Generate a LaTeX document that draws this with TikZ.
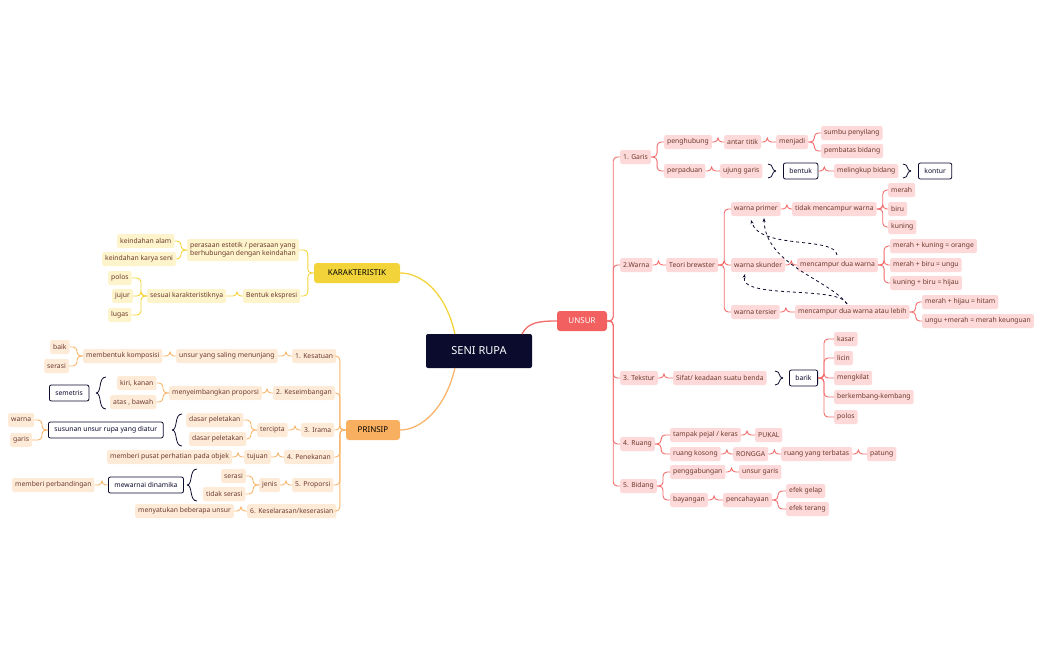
\documentclass[tikz,border=0pt]{standalone}
\usepackage{fontspec}
\setmainfont{Noto Sans}
\usetikzlibrary{arrows.meta}
\definecolor{rline}{HTML}{F26B6B}
\definecolor{rfill}{HTML}{FDD9D9}
\definecolor{oline}{HTML}{F7B46A}
\definecolor{ofill}{HTML}{FDEBD8}
\definecolor{yline}{HTML}{F2D43A}
\definecolor{yfill}{HTML}{FDF4CC}
\definecolor{navy}{HTML}{0B0B2E}
\definecolor{txt}{HTML}{6E3A2C}
\tikzset{
 base/.style={rounded corners=2pt,inner xsep=3pt,inner ysep=0pt,minimum height=14pt,font=\fontsize{6.8}{8}\selectfont,anchor=west,text=txt},
 rn/.style={base,fill=rfill},
 on/.style={base,fill=ofill},
 yn/.style={base,fill=yfill},
 bx/.style={base,fill=white,draw=navy,line width=0.8pt,text=navy,minimum height=16pt,inner xsep=6pt},
 rl/.style={draw=rline,line width=0.9pt,rounded corners=4pt},
 ol/.style={draw=oline,line width=0.9pt,rounded corners=4pt},
 yl/.style={draw=yline,line width=0.9pt,rounded corners=4pt},
 br/.style={draw=navy,line width=0.8pt},
 dsh/.style={draw=navy,line width=0.8pt,dashed,-{Stealth[length=4pt]}},
}
\newcommand\R[3][rl]{\draw[#1] (#2.east) -- ++(6,0) |- (#3.west);}
\newcommand\Lf[3][ol]{\draw[#1] (#2.west) -- ++(-6,0) |- (#3.east);}
% right brace ")" at point x,y with half height h
\newcommand\rbr[3]{\draw[br] (#1,#2-#3) .. controls (#1+6,#2-#3) and (#1+3,#2) .. (#1+8,#2) (#1,#2+#3) .. controls (#1+6,#2+#3) and (#1+3,#2) .. (#1+8,#2);}
\newcommand\lbr[3]{\draw[br] (#1,#2-#3) .. controls (#1-8,#2-#3) and (#1-4,#2) .. (#1-10,#2) (#1,#2+#3) .. controls (#1-8,#2+#3) and (#1-4,#2) .. (#1-10,#2);}
\begin{document}
\begin{tikzpicture}[x=1pt,y=-1pt]
\useasboundingbox (0,0) rectangle (1041,645);
% main nodes
\node[fill=navy,text=white,rounded corners=2pt,minimum width=106pt,minimum height=34pt,font=\fontsize{11}{13}\selectfont\bfseries] (seni) at (479,351) {SENI RUPA};
\node[fill=rline!90!red,text=white,rounded corners=3pt,minimum width=50pt,minimum height=20pt,font=\fontsize{8}{10}\selectfont\bfseries] (unsur) at (582,321) {UNSUR};
\node[fill=yline,text=black,rounded corners=3pt,minimum width=86pt,minimum height=20pt,font=\fontsize{8}{10}\selectfont\bfseries] (kar) at (357,273) {KARAKTERISTIK};
\node[fill=oline!90!orange,text=black,rounded corners=3pt,minimum width=54pt,minimum height=20pt,font=\fontsize{8}{10}\selectfont\bfseries] (prin) at (373,430) {PRINSIP};
\draw[rline,line width=1.3pt] (522,334) .. controls (528,322) and (540,321) .. (unsur.west);
\draw[yline,line width=1.3pt] (455,334) .. controls (445,290) and (420,273) .. (kar.east);
\draw[oline,line width=1.3pt] (455,368) .. controls (445,410) and (420,430) .. (prin.east);
% ================= UNSUR
\node[rn] (garis) at (620,157) {1. Garis};
\node[rn] (peng) at (664,142) {penghubung};
\node[rn] (antar) at (724,142) {antar titik};
\node[rn] (menj) at (776,142) {menjadi};
\node[rn] (sumbu) at (821,133) {sumbu penyilang};
\node[rn] (pemb) at (821,151) {pembatas bidang};
\node[rn] (perp) at (664,171) {perpaduan};
\node[rn] (ujung) at (720,171) {ujung garis};
\node[bx] (bentuk) at (783,171) {bentuk};
\node[rn] (meli) at (834,171) {melingkup bidang};
\node[bx] (kontur) at (918,171) {kontur};
\R{unsur}{garis}\R{garis}{peng}\R{peng}{antar}\R{antar}{menj}\R{menj}{sumbu}\R{menj}{pemb}
\R{garis}{perp}\R{perp}{ujung}\R{bentuk}{meli}
\rbr{768}{171}{7}\rbr{903}{171}{7}
\node[rn] (warna) at (620,265) {2.Warna};
\node[rn] (teori) at (666,265) {Teori brewster};
\node[rn] (prim) at (731,209) {warna primer};
\node[rn] (tidak) at (792,209) {tidak mencampur warna};
\node[rn] (merah) at (888,190) {merah};
\node[rn] (biru) at (888,209) {biru};
\node[rn] (kuning) at (888,227) {kuning};
\node[rn] (skun) at (731,265) {warna skunder};
\node[rn] (mcd) at (797,265) {mencampur dua warna};
\node[rn] (mko) at (890,246) {merah + kuning = orange};
\node[rn] (mbu) at (890,265) {merah + biru = ungu};
\node[rn] (kbh) at (890,283) {kuning + biru = hijau};
\node[rn] (ters) at (731,312) {warna tersier};
\node[rn] (mcl) at (795,312) {mencampur dua warna atau lebih};
\node[rn] (mhh) at (922,302) {merah + hijau = hitam};
\node[rn] (umk) at (922,321) {ungu +merah = merah keunguan};
\R{unsur}{warna}\R{warna}{teori}\R{teori}{prim}\R{teori}{skun}\R{teori}{ters}
\R{prim}{tidak}\R{tidak}{merah}\R{tidak}{biru}\R{tidak}{kuning}
\R{skun}{mcd}\R{mcd}{mko}\R{mcd}{mbu}\R{mcd}{kbh}
\R{ters}{mcl}\R{mcl}{mhh}\R{mcl}{umk}
\draw[dsh] (837,255) .. controls (835,236) and (760,250) .. (751,220);
\draw[dsh] (847,304) .. controls (830,280) and (765,265) .. (764,218);
\draw[dsh] (847,304) .. controls (840,285) and (738,300) .. (745,274);
\node[rn] (tek) at (620,378) {3. Tekstur};
\node[rn] (sifat) at (673,378) {Sifat/ keadaan suatu benda};
\node[bx] (barik) at (789,378) {barik};
\node[rn] (kasar) at (834,339) {kasar};
\node[rn] (licin) at (834,358) {licin};
\node[rn] (meng) at (834,378) {mengkilat};
\node[rn] (berk) at (834,397) {berkembang-kembang};
\node[rn] (polos) at (834,417) {polos};
\R{unsur}{tek}\R{tek}{sifat}\R{barik}{kasar}\R{barik}{licin}\R{barik}{meng}\R{barik}{berk}\R{barik}{polos}
\rbr{775}{378}{7}
\node[rn] (ruang) at (620,444) {4. Ruang};
\node[rn] (tamp) at (670,435) {tampak pejal / keras};
\node[rn] (pukal) at (755,435) {PUKAL};
\node[rn] (rk) at (670,454) {ruang kosong};
\node[rn] (rongga) at (733,454) {RONGGA};
\node[rn] (ryt) at (781,454) {ruang yang terbatas};
\node[rn] (patung) at (867,454) {patung};
\R{unsur}{ruang}\R{ruang}{tamp}\R{tamp}{pukal}\R{ruang}{rk}\R{rk}{rongga}\R{rongga}{ryt}\R{ryt}{patung}
\node[rn] (bid) at (620,486) {5. Bidang};
\node[rn] (pengg) at (670,472) {penggabungan};
\node[rn] (ug) at (739,472) {unsur garis};
\node[rn] (bay) at (670,500) {bayangan};
\node[rn] (penc) at (723,500) {pencahayaan};
\node[rn] (eg) at (786,491) {efek gelap};
\node[rn] (et) at (786,509) {efek terang};
\R{unsur}{bid}\R{bid}{pengg}\R{pengg}{ug}\R{bid}{bay}\R{bay}{penc}\R{penc}{eg}\R{penc}{et}
% ================= KARAKTERISTIK
\node[yn,align=left,minimum height=22pt] (pers) at (187,250) {perasaan estetik / perasaan yang\\berhubungan dengan keindahan};
\node[yn] (ka) at (117,241) {keindahan alam};
\node[yn] (kks) at (102,259) {keindahan karya seni};
\node[yn] (be) at (243,296) {Bentuk ekspresi};
\node[yn] (sk) at (147,296) {sesuai karakteristiknya};
\node[yn] (po) at (108,278) {polos};
\node[yn] (ju) at (112,296) {jujur};
\node[yn] (lu) at (108,315) {lugas};
\Lf[yl]{kar}{pers}\Lf[yl]{kar}{be}\Lf[yl]{pers}{ka}\Lf[yl]{pers}{kks}\Lf[yl]{be}{sk}\Lf[yl]{sk}{po}\Lf[yl]{sk}{ju}\Lf[yl]{sk}{lu}
% ================= PRINSIP
\node[on] (kes) at (292,356) {1. Kesatuan};
\node[on] (usm) at (176,356) {unsur yang saling menunjang};
\node[on] (mk) at (83,356) {membentuk komposisi};
\node[on] (baik) at (50,347) {baik};
\node[on] (ser1) at (44,366) {serasi};
\node[on] (kseim) at (273,393) {2. Keseimbangan};
\node[on] (mp) at (169,393) {menyeimbangkan proporsi};
\node[on] (kk) at (117,383) {kiri, kanan};
\node[on] (ab) at (110,402) {atas , bawah};
\node[bx] (sem) at (49,393) {semetris};
\node[on] (ir) at (301,430) {3. Irama};
\node[on] (terc) at (257,430) {tercipta};
\node[on] (dp1) at (186,420) {dasar peletakan};
\node[on] (dp2) at (189,439) {dasar peletakan};
\node[bx] (sus) at (48,430) {susunan unsur rupa yang diatur};
\node[on] (wa) at (8,420) {warna};
\node[on] (ga) at (10,440) {garis};
\node[on] (pen) at (284,457) {4. Penekanan};
\node[on] (tuj) at (244,457) {tujuan};
\node[on] (mpp) at (107,457) {memberi pusat perhatian pada objek};
\node[on] (prop) at (292,485) {5. Proporsi};
\node[on] (jen) at (259,485) {jenis};
\node[on] (ser2) at (221,476) {serasi};
\node[on] (tser) at (203,494) {tidak serasi};
\node[bx] (mdin) at (108,485) {mewarnai dinamika};
\node[on] (mper) at (12,485) {memberi perbandingan};
\node[on] (kesel) at (247,511) {6. Keselarasan/keserasian};
\node[on] (mbu2) at (135,511) {menyatukan beberapa unsur};
\Lf{prin}{kes}\Lf{kes}{usm}\Lf{usm}{mk}\Lf{mk}{baik}\Lf{mk}{ser1}
\Lf{prin}{kseim}\Lf{kseim}{mp}\Lf{mp}{kk}\Lf{mp}{ab}
\Lf{prin}{ir}\Lf{ir}{terc}\Lf{terc}{dp1}\Lf{terc}{dp2}\Lf{sus}{wa}\Lf{sus}{ga}
\Lf{prin}{pen}\Lf{pen}{tuj}\Lf{tuj}{mpp}
\Lf{prin}{prop}\Lf{prop}{jen}\Lf{jen}{ser2}\Lf{jen}{tser}\Lf{mdin}{mper}
\Lf{prin}{kesel}\Lf{kesel}{mbu2}
\lbr{106}{393}{16}\lbr{182}{430}{16}\lbr{197}{485}{16}
\end{tikzpicture}
\end{document}
